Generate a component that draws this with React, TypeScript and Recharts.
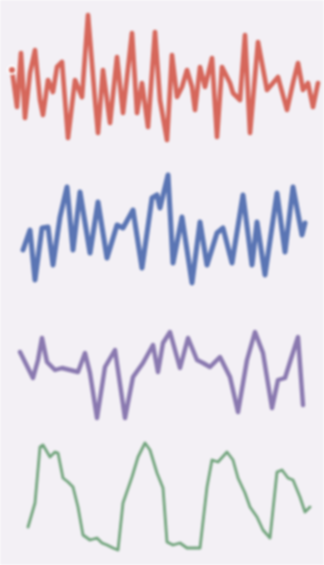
import React from "react";
import { LineChart, Line, XAxis, YAxis } from "recharts";

// time (samples) and amplitude for each of the four traces
const redT = [12,17,21,25,30,35,40,43,48,53,57,62,68,75,82,88,95,98,103,110,117,123,132,137,142,148,155,160,167,172,177,182,187,192,195,200,205,212,217,222,230,233,240,245,250,258,267,273,278,287,293,298,303,308,313,318];
const redV = [8,-29,25,-40,5,28,-22,-37,-2,-14,11,16,-60,-2,-19,63,-22,-55,8,-45,21,-35,45,-35,-5,-49,46,-22,-62,23,-19,-9,8,-9,-32,11,-9,20,-59,11,-5,-15,-22,43,-55,36,-12,-5,1,-32,-5,15,-12,-5,-29,-5];

const blueT = [23,30,35,42,48,53,60,67,73,80,90,98,107,117,123,133,142,152,157,160,168,173,182,192,200,207,217,223,232,243,252,257,265,277,285,293,302,305];
const blueV = [-22,-2,-52,0,1,-37,11,41,-22,36,-25,26,-30,3,0,18,-40,30,33,20,53,-35,11,-55,6,-37,-5,0,-35,33,-37,6,-47,35,-24,41,-7,5];

const purpleT = [20,25,33,38,42,47,55,62,70,78,85,90,97,105,115,125,133,143,153,158,163,170,180,188,197,203,210,220,230,238,247,255,263,272,278,285,290,298,303];
const purpleV = [13,3,-13,5,27,3,-5,-3,-5,-7,12,-8,-53,-2,15,-53,-12,2,20,-7,22,33,-3,27,5,2,-2,8,-12,-47,5,33,12,-43,-15,-13,3,28,-40];

const greenT = [28,35,40,43,50,55,58,63,68,73,78,83,90,97,102,107,113,118,123,132,138,145,150,157,163,167,173,180,187,193,200,207,212,218,227,233,238,245,250,257,263,270,277,282,288,293,300,305,310];
const greenV = [-30,-6,50,52,40,45,44,19,15,10,-10,-38,-43,-41,-46,-48,-51,-53,-6,20,40,54,47,24,9,-45,-48,-46,-51,-51,-51,10,37,35,45,37,19,4,-10,-20,-33,-41,25,27,19,17,0,-15,-10];

const build = (t: number[], v: number[]) => t.map((x, i) => ({ t: x, v: v[i] }));

type Trace = { data: { t: number; v: number }[]; color: string; width: number; height: number; lo: number; hi: number };

const traces: Trace[] = [
  { data: build(redT, redV), color: "#d6675b", width: 4.6, height: 156, lo: -78, hi: 78 },
  { data: build(blueT, blueV), color: "#5a75b4", width: 5, height: 144, lo: -72, hi: 72 },
  { data: build(purpleT, purpleV), color: "#8a79b0", width: 4.4, height: 130, lo: -65, hi: 65 },
  { data: build(greenT, greenV), color: "#71a47c", width: 2.8, height: 135, lo: -68, hi: 67 },
];

export default function App() {
  return (
    <div
      style={{
        position: "absolute",
        left: 0,
        top: 0,
        width: 324,
        height: 565,
        background: "#f3f0f5",
        filter: "blur(0.9px)",
      }}
    >
      {traces.map((tr, i) => (
        <LineChart
          key={i}
          width={324}
          height={tr.height}
          data={tr.data}
          margin={{ top: 0, right: 0, bottom: 0, left: 0 }}
        >
          <XAxis dataKey="t" type="number" domain={[0, 324]} hide />
          <YAxis type="number" domain={[tr.lo, tr.hi]} hide allowDataOverflow />
          <Line
            type="linear"
            dataKey="v"
            stroke={tr.color}
            strokeWidth={tr.width}
            dot={false}
            strokeLinejoin="round"
            strokeLinecap="round"
            isAnimationActive={false}
          />
        </LineChart>
      ))}
    </div>
  );
}
